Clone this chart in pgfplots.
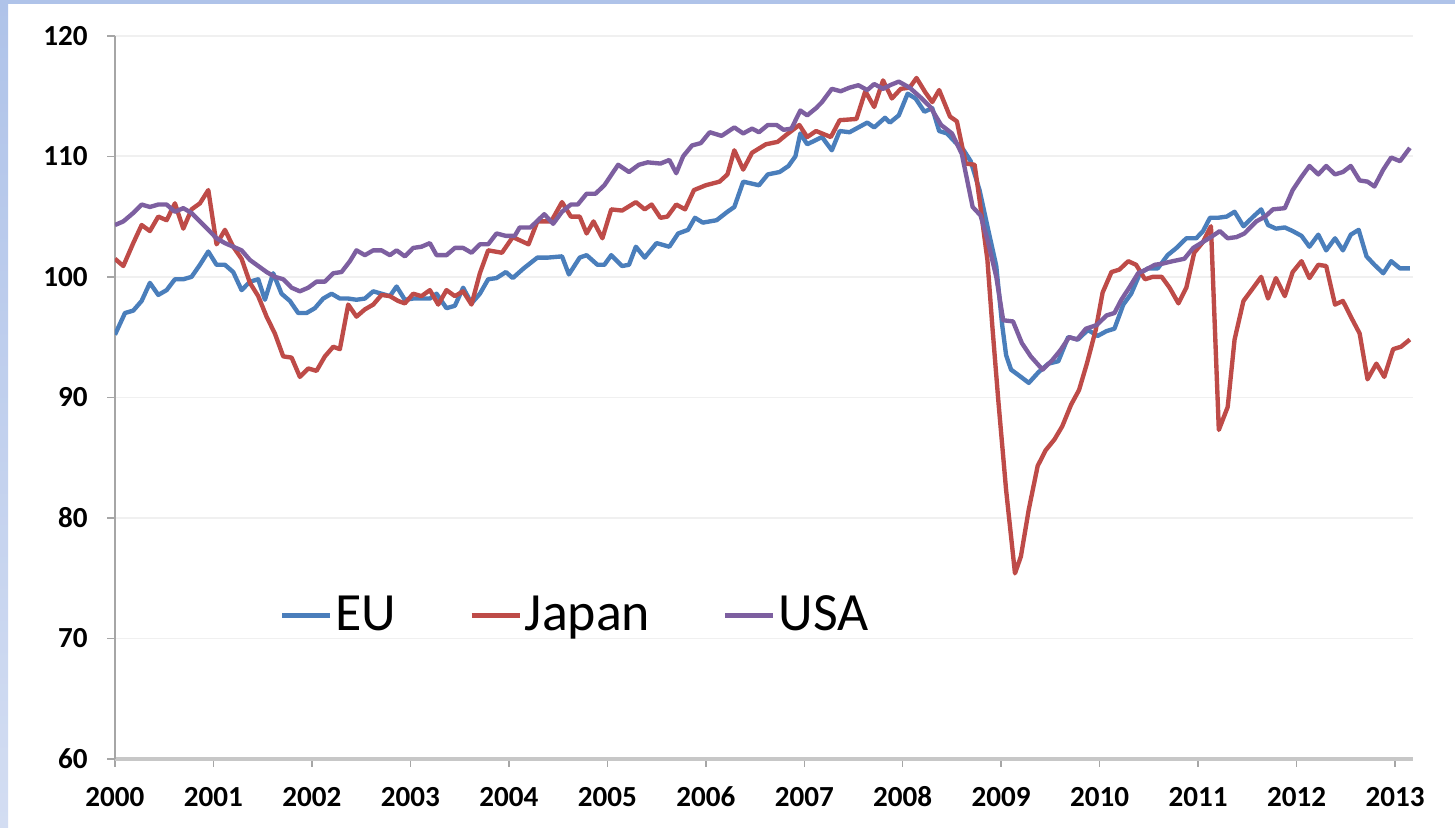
\documentclass[border=0pt]{standalone}
\usepackage{fontspec}
\setmainfont{Carlito}
\usepackage{pgfplots}
\pgfplotsset{compat=1.18}
\definecolor{euC}{HTML}{4A7EBB}
\definecolor{jpC}{HTML}{BE4B48}
\definecolor{usC}{HTML}{7D5FA0}
\definecolor{bandC}{HTML}{AFC3E9}
\definecolor{bandD}{HTML}{D3DDF2}
\begin{document}
\begin{tikzpicture}
\useasboundingbox (0,0) rectangle (500pt,284.2pt);
\fill[white] (0,0) rectangle (500pt,284.2pt);
\shade[top color=bandC, bottom color=bandD] (0,0) rectangle (2.8pt,284.2pt);
\fill[bandC] (0,282.8pt) rectangle (500pt,284.2pt);
\begin{axis}[at={(39.5pt,23.4pt)}, anchor=origin, scale only axis,
  width=446pt, height=248.5pt,
  xmin=2000, xmax=2013.18, ymin=60, ymax=120,
  xtick={2000,2001,...,2013}, ytick={60,70,...,120},
  axis x line*=bottom, axis y line*=left,
  x axis line style={draw=black!22, line width=1.1pt},
  y axis line style={draw=black!35, line width=0.5pt},
  tick align=outside, major tick length=2.7pt,
  tick style={draw=black!35, line width=0.5pt},
  ymajorgrids, major grid style={draw=black!6, line width=0.6pt},
  /pgf/number format/assume math mode=true,
  x tick label style={/pgf/number format/.cd, 1000 sep={}, /tikz/.cd, font=\fontsize{10}{11}\selectfont\bfseries, anchor=north, text height=6.6pt, text depth=0pt, yshift=-3.6pt},
  y tick label style={font=\fontsize{10}{11}\selectfont\bfseries, xshift=-3.2pt},
  legend style={at={(0.355,0.199)}, anchor=center, draw=none, fill=none,
    font=\fontsize{18.5}{20}\selectfont, legend columns=3,
    /tikz/every even column/.append style={column sep=24pt},
    nodes={inner sep=1pt}},
  legend image code/.code={\draw[#1, line width=1.7pt] (0pt,0pt) -- (16.5pt,0pt);},
  every axis plot/.append style={line width=1.5pt, line join=round, mark=none},
]
\addplot[euC] coordinates {
(2000.000,95.2)(2000.102,97.0)(2000.186,97.2)(2000.271,98.0)(2000.355,99.5)(2000.440,98.5)
(2000.525,98.9)(2000.609,99.8)(2000.694,99.8)(2000.778,100.0)(2000.863,101.0)(2000.948,102.1)
(2001.032,101.0)(2001.117,101.0)(2001.201,100.4)(2001.286,98.9)(2001.371,99.6)(2001.455,99.8)
(2001.523,98.1)(2001.607,100.3)(2001.692,98.6)(2001.777,98.0)(2001.861,97.0)(2001.946,97.0)
(2002.030,97.4)(2002.115,98.2)(2002.200,98.6)(2002.284,98.2)(2002.369,98.2)(2002.453,98.1)
(2002.538,98.2)(2002.623,98.8)(2002.707,98.6)(2002.792,98.4)(2002.860,99.2)(2002.944,98.1)
(2003.029,98.2)(2003.113,98.2)(2003.198,98.2)(2003.266,98.6)(2003.367,97.4)(2003.452,97.6)
(2003.536,99.1)(2003.621,97.8)(2003.706,98.6)(2003.790,99.8)(2003.875,99.9)(2003.97,100.4)
(2004.04,99.9)(2004.15,100.7)(2004.29,101.6)(2004.40,101.6)(2004.54,101.7)(2004.61,100.2)
(2004.72,101.6)(2004.79,101.8)(2004.90,101.0)(2004.97,101.0)(2005.04,101.8)(2005.15,100.9)
(2005.22,101.0)(2005.29,102.5)(2005.38,101.6)(2005.50,102.8)(2005.63,102.5)(2005.72,103.6)
(2005.82,103.9)(2005.89,104.9)(2005.97,104.5)(2006.11,104.7)(2006.22,105.4)(2006.29,105.8)
(2006.38,107.9)(2006.54,107.6)(2006.63,108.5)(2006.75,108.7)(2006.84,109.2)(2006.91,110.0)
(2006.96,111.9)(2007.03,111.0)(2007.18,111.6)(2007.28,110.5)(2007.36,112.1)(2007.46,112.0)
(2007.64,112.8)(2007.71,112.4)(2007.82,113.2)(2007.87,112.8)(2007.96,113.4)(2008.05,115.2)
(2008.13,114.8)(2008.22,113.7)(2008.30,114.0)(2008.37,112.1)(2008.45,111.9)(2008.53,111.2)
(2008.62,110.5)(2008.69,109.6)(2008.78,107.2)(2008.86,104.2)(2008.95,100.9)(2009.01,96.0)
(2009.05,93.5)(2009.10,92.3)(2009.20,91.7)(2009.28,91.2)(2009.38,92.1)(2009.48,92.8)
(2009.58,93.0)(2009.68,95.0)(2009.78,94.8)(2009.88,95.6)(2009.98,95.1)(2010.07,95.5)
(2010.15,95.7)(2010.24,97.7)(2010.32,98.6)(2010.41,100.3)(2010.49,100.7)(2010.59,100.7)
(2010.69,101.8)(2010.78,102.4)(2010.88,103.2)(2010.98,103.2)(2011.05,103.8)(2011.12,104.9)
(2011.20,104.9)(2011.29,105.0)(2011.37,105.4)(2011.46,104.2)(2011.56,105.0)(2011.64,105.6)
(2011.71,104.3)(2011.79,104.0)(2011.88,104.1)(2011.96,103.8)(2012.05,103.4)(2012.13,102.5)
(2012.22,103.5)(2012.30,102.2)(2012.39,103.2)(2012.47,102.2)(2012.55,103.5)(2012.63,103.9)
(2012.71,101.7)(2012.79,101.0)(2012.88,100.3)(2012.96,101.3)(2013.05,100.7)(2013.15,100.7)
};
\addlegendentry{EU}
\addplot[jpC] coordinates {
(2000.000,101.5)(2000.085,100.9)(2000.186,102.8)(2000.271,104.3)(2000.355,103.8)(2000.440,105.0)
(2000.525,104.7)(2000.609,106.1)(2000.694,104.0)(2000.778,105.6)(2000.863,106.1)(2000.948,107.2)
(2001.032,102.7)(2001.117,103.9)(2001.201,102.5)(2001.286,101.5)(2001.371,99.5)(2001.455,98.4)
(2001.540,96.7)(2001.624,95.3)(2001.709,93.4)(2001.794,93.3)(2001.878,91.7)(2001.963,92.4)
(2002.047,92.2)(2002.132,93.4)(2002.217,94.2)(2002.284,94.0)(2002.369,97.7)(2002.453,96.7)
(2002.538,97.3)(2002.623,97.7)(2002.707,98.5)(2002.792,98.4)(2002.876,98.0)(2002.944,97.8)
(2003.029,98.6)(2003.113,98.4)(2003.198,98.9)(2003.283,97.7)(2003.367,98.9)(2003.452,98.4)
(2003.536,98.8)(2003.621,97.7)(2003.706,100.3)(2003.790,102.2)(2003.93,102.0)(2004.04,103.3)
(2004.20,102.7)(2004.29,104.6)(2004.43,104.6)(2004.54,106.2)(2004.63,105.0)(2004.72,105.0)
(2004.79,103.6)(2004.86,104.6)(2004.95,103.2)(2005.04,105.6)(2005.15,105.5)(2005.29,106.2)
(2005.38,105.6)(2005.45,106.0)(2005.54,104.9)(2005.61,105.0)(2005.70,106.0)(2005.79,105.6)
(2005.88,107.2)(2006.00,107.6)(2006.14,107.9)(2006.22,108.5)(2006.29,110.5)(2006.38,108.9)
(2006.47,110.3)(2006.61,111.0)(2006.73,111.2)(2006.82,111.8)(2006.95,112.6)(2007.03,111.6)
(2007.12,112.1)(2007.27,111.6)(2007.36,113.0)(2007.53,113.1)(2007.62,115.4)(2007.71,114.1)
(2007.80,116.3)(2007.89,114.8)(2007.98,115.6)(2008.07,115.7)(2008.14,116.5)(2008.23,115.3)
(2008.30,114.5)(2008.37,115.5)(2008.48,113.3)(2008.55,112.9)(2008.64,109.4)(2008.73,109.3)
(2008.78,106.4)(2008.86,101.4)(2008.91,95.9)(2008.97,89.8)(2009.05,82.3)(2009.14,75.4)
(2009.20,76.8)(2009.28,80.7)(2009.37,84.3)(2009.45,85.6)(2009.54,86.5)(2009.62,87.6)
(2009.71,89.4)(2009.79,90.6)(2009.87,92.8)(2009.96,95.6)(2010.03,98.7)(2010.12,100.4)
(2010.20,100.6)(2010.29,101.3)(2010.37,101.0)(2010.46,99.8)(2010.54,100.0)(2010.63,100.0)
(2010.71,99.1)(2010.80,97.8)(2010.88,99.1)(2010.96,102.0)(2011.05,102.9)(2011.13,104.2)
(2011.21,87.3)(2011.30,89.2)(2011.37,94.8)(2011.46,98.0)(2011.56,99.1)(2011.64,100.0)
(2011.71,98.2)(2011.79,99.9)(2011.88,98.4)(2011.96,100.4)(2012.05,101.3)(2012.13,99.9)
(2012.22,101.0)(2012.30,100.9)(2012.39,97.7)(2012.47,98.0)(2012.55,96.7)(2012.64,95.3)
(2012.72,91.5)(2012.81,92.8)(2012.89,91.7)(2012.98,94.0)(2013.06,94.2)(2013.15,94.8)
};
\addlegendentry{Japan}
\addplot[usC] coordinates {
(2000.000,104.3)(2000.085,104.6)(2000.186,105.3)(2000.271,106.0)(2000.355,105.8)(2000.440,106.0)
(2000.525,106.0)(2000.609,105.4)(2000.694,105.7)(2000.778,105.3)(2000.863,104.6)(2000.948,103.9)
(2001.032,103.2)(2001.117,102.8)(2001.201,102.5)(2001.286,102.2)(2001.371,101.4)(2001.455,100.9)
(2001.540,100.4)(2001.624,100.0)(2001.709,99.8)(2001.794,99.1)(2001.878,98.8)(2001.963,99.1)
(2002.047,99.6)(2002.132,99.6)(2002.217,100.3)(2002.301,100.4)(2002.386,101.3)(2002.453,102.2)
(2002.538,101.8)(2002.623,102.2)(2002.707,102.2)(2002.792,101.8)(2002.860,102.2)(2002.944,101.7)
(2003.029,102.4)(2003.113,102.5)(2003.198,102.8)(2003.266,101.8)(2003.367,101.8)(2003.452,102.4)
(2003.536,102.4)(2003.621,102.0)(2003.706,102.7)(2003.790,102.7)(2003.875,103.6)(2003.97,103.4)
(2004.06,103.4)(2004.11,104.1)(2004.22,104.1)(2004.36,105.2)(2004.45,104.4)(2004.54,105.4)
(2004.63,106.0)(2004.70,106.0)(2004.79,106.9)(2004.88,106.9)(2004.97,107.6)(2005.11,109.3)
(2005.22,108.7)(2005.32,109.3)(2005.41,109.5)(2005.54,109.4)(2005.63,109.7)(2005.70,108.6)
(2005.77,110.0)(2005.86,110.9)(2005.95,111.1)(2006.04,112.0)(2006.16,111.7)(2006.29,112.4)
(2006.38,111.9)(2006.47,112.3)(2006.54,112.0)(2006.63,112.6)(2006.72,112.6)(2006.79,112.2)
(2006.87,112.3)(2006.96,113.8)(2007.03,113.4)(2007.12,114.0)(2007.18,114.5)(2007.28,115.6)
(2007.37,115.4)(2007.46,115.7)(2007.55,115.9)(2007.64,115.5)(2007.71,116.0)(2007.80,115.6)
(2007.87,115.9)(2007.96,116.2)(2008.07,115.7)(2008.18,114.9)(2008.28,114.1)(2008.39,112.6)
(2008.50,111.9)(2008.60,110.2)(2008.71,105.8)(2008.79,105.1)(2008.86,103.1)(2008.95,100.0)
(2009.02,96.4)(2009.12,96.3)(2009.21,94.5)(2009.30,93.4)(2009.42,92.3)(2009.52,93.1)
(2009.60,93.9)(2009.69,95.0)(2009.77,94.8)(2009.86,95.7)(2009.97,96.0)(2010.07,96.8)
(2010.15,97.0)(2010.22,98.1)(2010.30,99.1)(2010.39,100.3)(2010.47,100.6)(2010.56,101.0)
(2010.64,101.1)(2010.74,101.3)(2010.86,101.5)(2010.95,102.4)(2011.05,102.9)(2011.13,103.3)
(2011.22,103.8)(2011.30,103.2)(2011.39,103.3)(2011.47,103.6)(2011.59,104.6)(2011.68,105.0)
(2011.76,105.6)(2011.88,105.7)(2011.96,107.2)(2012.05,108.3)(2012.13,109.2)(2012.22,108.5)
(2012.30,109.2)(2012.39,108.5)(2012.47,108.7)(2012.55,109.2)(2012.64,108.0)(2012.72,107.9)
(2012.79,107.5)(2012.88,108.9)(2012.96,109.9)(2013.05,109.6)(2013.15,110.7)
};
\addlegendentry{USA}
\end{axis}
\end{tikzpicture}
\end{document}
